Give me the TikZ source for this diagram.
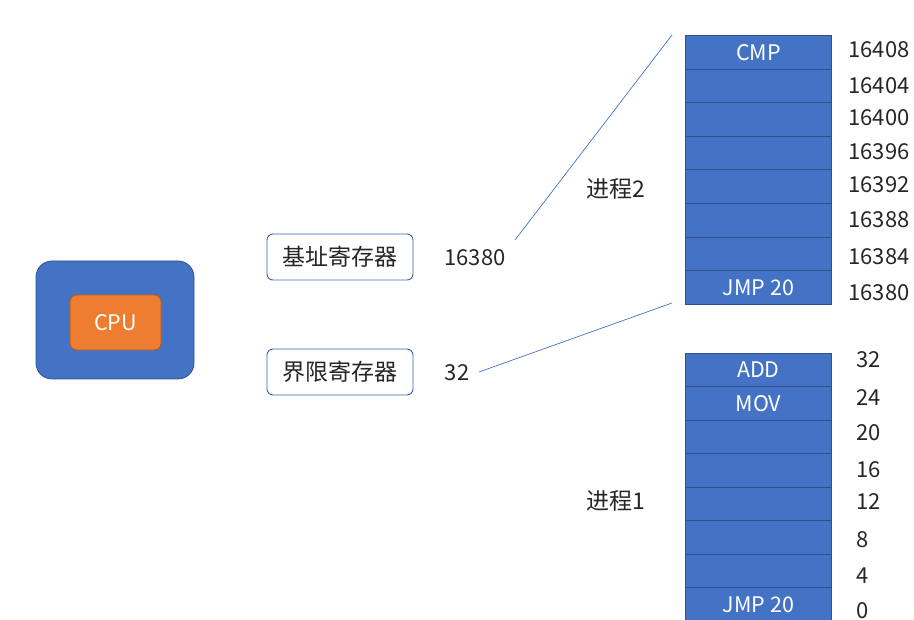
\documentclass[tikz,border=0pt]{standalone}
\usepackage{fontspec}
\setmainfont{Noto Sans CJK SC}
\definecolor{blu}{HTML}{4472C4}
\definecolor{dblu}{HTML}{2F528F}
\definecolor{rblu}{HTML}{3A62AA}
\definecolor{org}{HTML}{ED7D31}
\definecolor{dorg}{HTML}{C55A11}
\definecolor{txt}{HTML}{262626}
\begin{document}
\begin{tikzpicture}[x=1pt,y=-1pt,
  cell/.style={draw=dblu,fill=blu,line width=0.8pt,minimum width=146pt,minimum height=33.6pt,inner sep=0pt,text=white,font=\fontsize{21.5}{21.5}\selectfont,anchor=north west},
  reg/.style={draw=rblu,fill=white,rounded corners=6pt,line width=0.9pt,minimum width=146pt,minimum height=46pt,inner sep=0pt,text=txt,font=\fontsize{23}{23}\selectfont},
  lab/.style={text=txt,font=\fontsize{22}{22}\selectfont,inner sep=0pt},
  conn/.style={draw=blu,line width=0.7pt}]
\useasboundingbox (0,0) rectangle (914,620);
% CPU
\node[draw=dblu,fill=blu,rounded corners=16pt,minimum width=158pt,minimum height=118pt,line width=0.8pt] (cpuo) at (115,320) {};
\node[draw=dorg,fill=org,rounded corners=7pt,minimum width=91pt,minimum height=55pt,line width=0.8pt,text=white,font=\fontsize{21.5}{21.5}\selectfont] (cpu) at (115.5,322.5) {CPU};
% registers
\node[reg] (base) at (340,257) {基址寄存器};
\node[reg] (lim) at (340,372) {界限寄存器};
\node[lab] (bv) at (475,258) {16380};
\node[lab] (lv) at (457,373) {32};
% process 2
\foreach \i/\t in {0/CMP,1/,2/,3/,4/,5/,6/,7/JMP 20}{
  \node[cell] (p2c\i) at (685,35+\i*33.6) {\t};
}
\foreach \i/\t/\y in {0/16408/50,1/16404/86,2/16400/118,3/16396/152,4/16392/185,5/16388/220,6/16384/257,7/16380/293}{
  \node[lab] (p2l\i) at (879,\y) {\t};
}
% process 1
\foreach \i/\t in {0/ADD,1/MOV,2/,3/,4/,5/,6/,7/JMP 20}{
  \node[cell] (p1c\i) at (685,352.7+\i*33.5) {\t};
}
\foreach \i/\t/\y in {0/32/360,1/24/398,2/20/433,3/16/470,4/12/502,5/8/540,6/4/576,7/0/611}{
  \node[lab,anchor=west] (p1l\i) at (856,\y) {\t};
}
\node[lab,font=\fontsize{23}{23}\selectfont] (pr2) at (616,189) {进程2};
\node[lab,font=\fontsize{23}{23}\selectfont] (pr1) at (616,501) {进程1};
% connectors
\coordinate (a1) at (515,240);
\coordinate (a2) at (672,35);
\coordinate (b1) at (479,372);
\coordinate (b2) at (672,303);
\draw[conn] (a1) -- (a2);
\draw[conn] (b1) -- (b2);
\end{tikzpicture}
\end{document}
